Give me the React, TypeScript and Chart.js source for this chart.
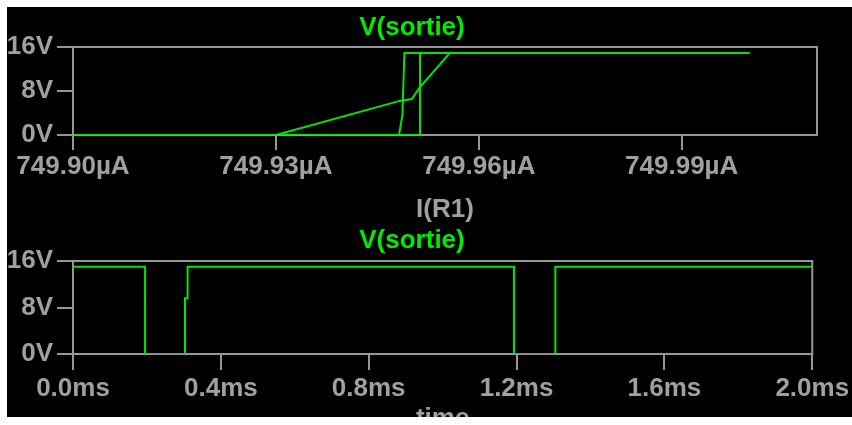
import React, { useEffect, useRef } from 'react';
import { Chart, registerables } from 'chart.js';

Chart.register(...registerables);

// ---------- data ----------
// Top plot: DC sweep, x = I(R1) in µA, y = V(sortie) in volts (three stepped traces)
const sweepTicks = [749.9, 749.93, 749.96, 749.99];
const sweepMin = 749.9;
const sweepMax = 750.01;

const traceA_I = [749.9, 749.9482, 749.9487, 749.949, 750.0];
const traceA_V = [0, 0, 3.6, 14.9, 14.9];

const traceB_I = [749.9, 749.9513, 749.9513, 750.0];
const traceB_V = [0, 0, 14.9, 14.9];

const traceC_I = [749.9, 749.93, 749.9483, 749.9501, 749.9513, 749.9535, 749.9557, 750.0];
const traceC_V = [0, 0, 6.2, 6.55, 8.7, 11.8, 14.9, 14.9];

// Bottom plot: transient, x = time in ms, y = V(sortie) in volts
const timeTicks = [0, 0.4, 0.8, 1.2, 1.6, 2.0];
const time_ms = [0, 0.195, 0.195, 0.303, 0.303, 0.31, 0.31, 1.193, 1.193, 1.305, 1.305, 2.0];
const sortie_V = [15, 15, 0, 0, 9.6, 9.6, 15, 15, 0, 0, 15, 15];

const voltTicks = [0, 8, 16];
const seriesName = 'V(sortie)';
const sweepAxisTitle = 'I(R1)';
const timeAxisTitle = 'time';

// ---------- styles ----------
const LINE_GREEN = 'rgb(0,230,0)';
const TITLE_GREEN = 'rgb(0,235,0)';
const GRAY_TEXT = 'rgb(160,160,160)';
const GRAY_LINE = 'rgb(150,150,150)';
const FONT = "'Liberation Sans', Arial, sans-serif";
const font = { family: FONT, size: 26, weight: 'bold' as const, lineHeight: 1.2 };
const CANVAS_W = 845;

const framePlugin = {
  id: 'frame',
  beforeDatasetsDraw(chart: any) {
    const { ctx, chartArea: a } = chart;
    ctx.save();
    ctx.strokeStyle = GRAY_LINE;
    ctx.lineWidth = 2;
    ctx.strokeRect(a.left, a.top, a.right - a.left, a.bottom - a.top);
    ctx.restore();
  },
};

function toPoints(xs: number[], ys: number[]) {
  return xs.map((x, i) => ({ x, y: ys[i] }));
}

function lineDataset(xs: number[], ys: number[]) {
  return {
    data: toPoints(xs, ys),
    showLine: true,
    borderColor: LINE_GREEN,
    backgroundColor: LINE_GREEN,
    borderWidth: 2,
    pointRadius: 0,
    tension: 0,
    fill: false,
  };
}

function makeConfig(p: any) {
  return {
    type: 'scatter',
    data: { datasets: p.datasets },
    plugins: [framePlugin],
    options: {
      responsive: false,
      animation: false,
      devicePixelRatio: 1,
      layout: { autoPadding: false, padding: { left: 0, right: 35, top: 0, bottom: 0 } },
      plugins: {
        legend: { display: false },
        tooltip: { enabled: false },
        title: {
          display: true,
          text: seriesName,
          color: TITLE_GREEN,
          font,
          padding: p.titlePadding,
        },
      },
      scales: {
        x: {
          type: 'linear',
          min: p.xMin,
          max: p.xMax,
          afterBuildTicks: (s: any) => {
            s.ticks = p.xTicks.map((v: number) => ({ value: v }));
          },
          afterFit: (s: any) => {
            s.height = p.xHeight;
          },
          ticks: {
            callback: p.xFmt,
            color: GRAY_TEXT,
            font,
            padding: p.xTickPadding,
            maxRotation: 0,
            autoSkip: false,
          },
          grid: {
            drawOnChartArea: false,
            drawTicks: true,
            tickLength: p.xTickLength,
            color: GRAY_LINE,
            lineWidth: 2,
          },
          border: { display: false },
          title: {
            display: true,
            text: p.xTitle,
            color: GRAY_TEXT,
            font,
            padding: { top: 0, bottom: p.xTitleBottom },
          },
        },
        y: {
          type: 'linear',
          min: 0,
          max: 16,
          afterBuildTicks: (s: any) => {
            s.ticks = voltTicks.map((v) => ({ value: v }));
          },
          afterFit: (s: any) => {
            s.width = 66;
          },
          ticks: {
            callback: (v: number) => v + 'V',
            color: GRAY_TEXT,
            font,
            padding: 4,
          },
          grid: {
            drawOnChartArea: false,
            drawTicks: true,
            tickLength: 16,
            color: GRAY_LINE,
            lineWidth: 2,
          },
          border: { display: false },
        },
      },
    },
  };
}

const topConfig = () =>
  makeConfig({
    datasets: [
      lineDataset(traceC_I, traceC_V),
      lineDataset(traceB_I, traceB_V),
      lineDataset(traceA_I, traceA_V),
    ],
    xMin: sweepMin,
    xMax: sweepMax,
    xTicks: sweepTicks,
    xFmt: (v: number) => v.toFixed(2) + 'µA',
    xTitle: sweepAxisTitle,
    titlePadding: { top: 5.4, bottom: 3.4 },
    xHeight: 90,
    xTickLength: 15,
    xTickPadding: 1.4,
    xTitleBottom: 0,
  });

const bottomConfig = () =>
  makeConfig({
    datasets: [lineDataset(time_ms, sortie_V)],
    xMin: timeTicks[0],
    xMax: timeTicks[timeTicks.length - 1],
    xTicks: timeTicks,
    xFmt: (v: number) => v.toFixed(1) + 'ms',
    xTitle: timeAxisTitle,
    titlePadding: { top: 0, bottom: 4.8 },
    xHeight: 81,
    xTickLength: 16,
    xTickPadding: 2.9,
    xTitleBottom: 0.6,
  });

function PlotCanvas({ build, height }: { build: () => any; height: number }) {
  const ref = useRef<HTMLCanvasElement | null>(null);
  useEffect(() => {
    if (!ref.current) return;
    const chart = new Chart(ref.current, build());
    return () => chart.destroy();
  }, [build]);
  return (
    <canvas
      ref={ref}
      width={CANVAS_W}
      height={height}
      style={{ display: 'block', width: CANVAS_W, height }}
    />
  );
}

export default function App() {
  return (
    <div
      style={{
        position: 'absolute',
        left: 7,
        top: 7,
        width: CANVAS_W,
        height: 410,
        overflow: 'hidden',
        background: '#000',
      }}
    >
      <PlotCanvas build={topConfig} height={218} />
      <PlotCanvas build={bottomConfig} height={210} />
    </div>
  );
}
